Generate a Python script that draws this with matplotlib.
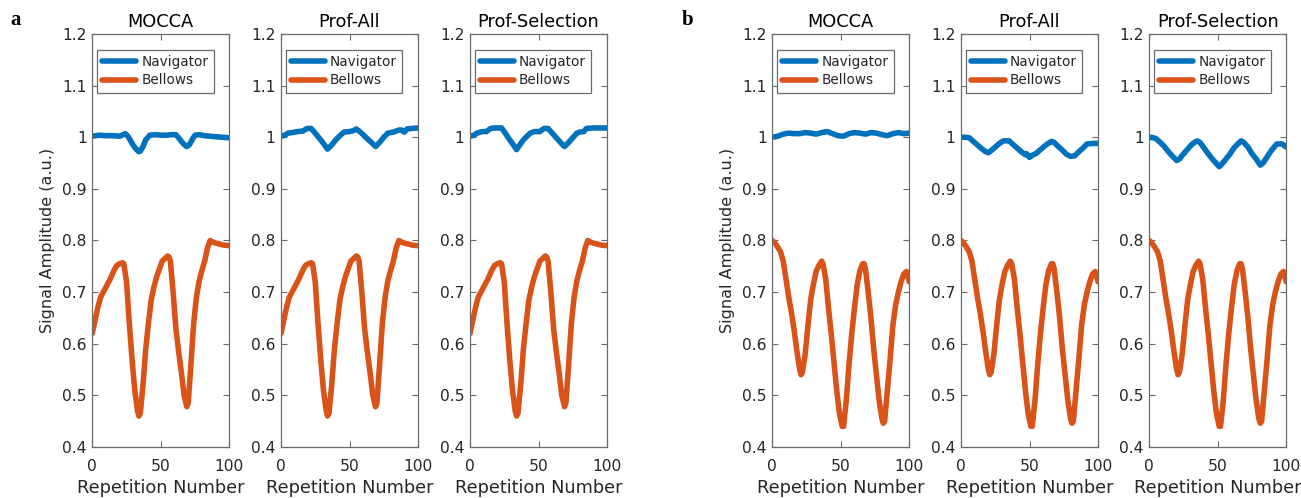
import matplotlib
matplotlib.use('Agg')
import matplotlib.pyplot as plt

plt.rcParams['font.family'] = ['DejaVu Sans']

# ---------------- data ----------------
titles = ["MOCCA", "Prof-All", "Prof-Selection"]
panel_labels = ["a", "b"]
series_labels = ["Navigator", "Bellows"]
yticks = [0.4, 0.5, 0.6, 0.7, 0.8, 0.9, 1.0, 1.1, 1.2]
ytick_labels = ["0.4", "0.5", "0.6", "0.7", "0.8", "0.9", "1", "1.1", "1.2"]
xticks = [0, 50, 100]
xtick_labels = ["0", "50", "100"]

# Panel a - bellows (same in all three sub-plots)
bell_a_x = [0, 2, 4, 6, 8, 10, 13, 16, 18, 20, 22, 23, 25, 27, 29, 31, 33, 34, 35, 37,
            39, 41, 43, 45, 47, 49, 51, 53, 55, 56, 57, 59, 61, 63, 65, 67, 69, 70, 72,
            74, 76, 78, 80, 82, 84, 86, 88, 90, 93, 96, 100]
bell_a_y = [0.620, 0.645, 0.670, 0.690, 0.700, 0.710, 0.725, 0.743, 0.752, 0.755, 0.757,
            0.755, 0.720, 0.640, 0.570, 0.510, 0.470, 0.460, 0.465, 0.520, 0.590, 0.640,
            0.685, 0.710, 0.730, 0.745, 0.760, 0.765, 0.770, 0.768, 0.760, 0.700, 0.630,
            0.585, 0.545, 0.500, 0.478, 0.485, 0.560, 0.640, 0.690, 0.722, 0.742, 0.760,
            0.785, 0.800, 0.797, 0.795, 0.793, 0.791, 0.790]

# Panel a - navigator
nav_a_mocca_x = [0, 5, 10, 15, 20, 24, 26, 28, 30, 32, 34, 35, 37, 39, 42, 46, 50, 54, 58,
                 61, 63, 65, 67, 69, 71, 73, 75, 78, 82, 86, 90, 95, 100]
nav_a_mocca_y = [1.002, 1.004, 1.003, 1.003, 1.002, 1.007, 1.002, 0.993, 0.984, 0.977, 0.972,
                 0.973, 0.982, 0.995, 1.004, 1.005, 1.004, 1.004, 1.005, 1.005, 0.999, 0.992,
                 0.986, 0.982, 0.986, 0.996, 1.004, 1.005, 1.003, 1.002, 1.001, 1.000, 0.999]

nav_a_all_x = [0, 3, 5, 8, 12, 16, 19, 22, 25, 28, 31, 34, 37, 40, 43, 46, 50, 53, 55, 57,
               60, 63, 66, 69, 72, 75, 78, 82, 86, 88, 90, 92, 95, 100]
nav_a_all_y = [1.002, 1.004, 1.008, 1.009, 1.011, 1.012, 1.017, 1.017, 1.008, 0.998, 0.988,
               0.977, 0.985, 0.995, 1.003, 1.010, 1.011, 1.013, 1.016, 1.012, 1.005, 0.997,
               0.990, 0.982, 0.990, 1.000, 1.008, 1.010, 1.014, 1.014, 1.010, 1.016, 1.017,
               1.018]

nav_a_sel_x = [0, 3, 5, 9, 12, 15, 18, 23, 26, 29, 32, 34, 36, 39, 42, 44, 47, 51, 54, 57,
               60, 63, 66, 69, 72, 75, 78, 80, 83, 85, 90, 95, 100]
nav_a_sel_y = [1.002, 1.004, 1.008, 1.011, 1.011, 1.017, 1.018, 1.018, 1.007, 0.995, 0.984,
               0.976, 0.984, 0.995, 1.003, 1.008, 1.011, 1.011, 1.017, 1.017, 1.008, 0.999,
               0.990, 0.982, 0.990, 0.999, 1.008, 1.010, 1.011, 1.017, 1.018, 1.018, 1.018]

# Panel b - bellows (same in all three sub-plots)
bell_b_x = [0, 2, 4, 6, 8, 10, 12, 14, 16, 18, 20, 21, 22, 24, 26, 28, 30, 32, 34, 36, 37,
            39, 41, 43, 45, 47, 49, 51, 52, 54, 56, 58, 60, 62, 64, 66, 67, 68, 70, 72, 74,
            76, 78, 80, 81, 82, 84, 86, 88, 90, 92, 94, 96, 98, 100]
bell_b_y = [0.800, 0.795, 0.787, 0.778, 0.760, 0.725, 0.690, 0.660, 0.625, 0.585, 0.550,
            0.540, 0.545, 0.580, 0.635, 0.685, 0.715, 0.740, 0.752, 0.760, 0.755, 0.725,
            0.670, 0.620, 0.565, 0.510, 0.465, 0.440, 0.440, 0.490, 0.560, 0.620, 0.670,
            0.715, 0.742, 0.755, 0.755, 0.745, 0.700, 0.650, 0.590, 0.540, 0.490, 0.455,
            0.446, 0.450, 0.510, 0.570, 0.635, 0.675, 0.700, 0.720, 0.735, 0.740, 0.720]

# Panel b - navigator
nav_b_mocca_x = [0, 4, 8, 12, 16, 20, 24, 28, 32, 36, 40, 44, 48, 52, 56, 60, 64, 68, 72,
                 76, 80, 84, 88, 92, 96, 100]
nav_b_mocca_y = [1.000, 1.002, 1.006, 1.008, 1.007, 1.007, 1.009, 1.008, 1.006, 1.009, 1.011,
                 1.007, 1.003, 1.002, 1.007, 1.009, 1.008, 1.006, 1.009, 1.008, 1.005, 1.003,
                 1.007, 1.009, 1.007, 1.008]

nav_b_all_x = [0, 3, 6, 9, 12, 15, 18, 20, 22, 25, 28, 31, 35, 38, 41, 44, 47, 48, 50, 52,
               55, 58, 62, 66, 68, 71, 74, 77, 80, 83, 86, 89, 92, 96, 100]
nav_b_all_y = [1.000, 1.000, 0.999, 0.992, 0.985, 0.978, 0.972, 0.970, 0.974, 0.981, 0.988,
               0.993, 0.993, 0.986, 0.979, 0.972, 0.966, 0.968, 0.961, 0.965, 0.969, 0.976,
               0.985, 0.992, 0.990, 0.982, 0.975, 0.967, 0.963, 0.964, 0.972, 0.979, 0.987,
               0.988, 0.988]

nav_b_sel_x = [0, 3, 5, 8, 11, 14, 17, 20, 22, 25, 28, 31, 33, 35, 37, 40, 43, 46, 49, 51,
               53, 56, 59, 62, 65, 67, 69, 72, 75, 78, 81, 83, 86, 89, 93, 97, 100]
nav_b_sel_y = [1.000, 0.999, 0.997, 0.990, 0.982, 0.972, 0.963, 0.955, 0.958, 0.968, 0.977,
               0.986, 0.990, 0.993, 0.990, 0.979, 0.968, 0.958, 0.949, 0.943, 0.948, 0.958,
               0.968, 0.980, 0.988, 0.993, 0.990, 0.981, 0.968, 0.958, 0.946, 0.950, 0.962,
               0.974, 0.987, 0.987, 0.981]

nav_x = [nav_a_mocca_x, nav_a_all_x, nav_a_sel_x, nav_b_mocca_x, nav_b_all_x, nav_b_sel_x]
nav_y = [nav_a_mocca_y, nav_a_all_y, nav_a_sel_y, nav_b_mocca_y, nav_b_all_y, nav_b_sel_y]
bell_x = [bell_a_x] * 3 + [bell_b_x] * 3
bell_y = [bell_a_y] * 3 + [bell_b_y] * 3

# ---------------- styling / layout ----------------
nav_color = '#0072BD'
bell_color = '#D95319'
axis_color = '#6b6b6b'
text_color = '#262626'

W, H = 1301, 498
fig = plt.figure(figsize=(W / 100, H / 100), dpi=100)
lefts = [92.3, 281, 470, 772.3, 961, 1149.3]
axw = 137
top, bottom = 34, 447

for i in range(6):
    ax = fig.add_axes([lefts[i] / W, (H - bottom) / H, axw / W, (bottom - top) / H])
    ax.plot(nav_x[i], nav_y[i], color=nav_color, lw=4.0, label=series_labels[0],
            solid_joinstyle='round', solid_capstyle='round')
    ax.plot(bell_x[i], bell_y[i], color=bell_color, lw=4.0, label=series_labels[1],
            solid_joinstyle='round', solid_capstyle='round')
    ax.set_xlim(0, 100)
    ax.set_ylim(0.4, 1.2)
    ax.set_xticks(xticks)
    ax.set_xticklabels(xtick_labels)
    ax.set_yticks(yticks)
    ax.set_yticklabels(ytick_labels)
    ax.tick_params(direction='in', top=True, right=True, length=4, width=0.8,
                   color=axis_color, labelcolor=text_color, labelsize=11.2)
    ax.tick_params(axis='x', pad=8.5)
    ax.tick_params(axis='y', pad=4)
    for sp in ax.spines.values():
        sp.set_color(axis_color)
        sp.set_linewidth(0.9)
    ax.set_title(titles[i % 3], fontsize=12.8, color='black', pad=5)
    ax.set_xlabel('Repetition Number', fontsize=12.8, color=text_color, labelpad=3.5)
    if i % 3 == 0:
        ax.set_ylabel('Signal Amplitude (a.u.)', fontsize=11.5, color=text_color, labelpad=5)
    leg = ax.legend(loc='upper left', bbox_to_anchor=(0.034, 0.962), borderaxespad=0,
                    fontsize=9.8, handlelength=2.5, handletextpad=0.35, borderpad=0.4,
                    labelspacing=0.32, frameon=True, fancybox=False, framealpha=1)
    leg.get_frame().set_edgecolor(axis_color)
    leg.get_frame().set_linewidth(0.9)
    for t in leg.get_texts():
        t.set_color(text_color)

fig.text(10 / W, 1 - 20 / H, panel_labels[0], fontfamily='Liberation Serif',
         fontweight='bold', fontsize=15, va='center', ha='left')
fig.text(682 / W, 1 - 20 / H, panel_labels[1], fontfamily='Liberation Serif',
         fontweight='bold', fontsize=15, va='center', ha='left')

fig.savefig('out.png', dpi=100)
